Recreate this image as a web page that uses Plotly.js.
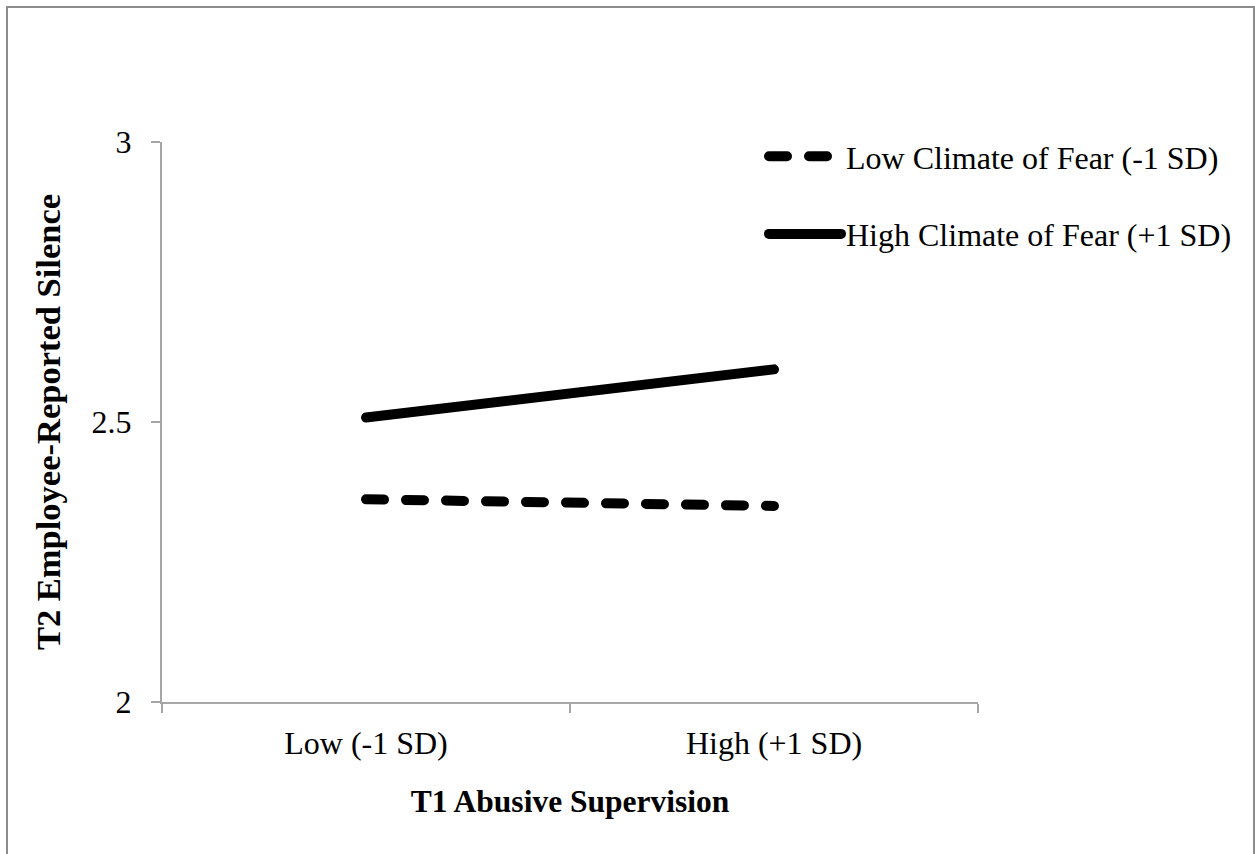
<!DOCTYPE html>
<html>
<head>
<meta charset="utf-8">
<script src="https://cdn.plot.ly/plotly-3.0.1.min.js"></script>
<style>html,body{margin:0;padding:0;background:#fff;}#chart{width:1255px;height:854px;}</style>
</head>
<body>
<div id="chart"></div>
<script>
const categories = ["Low (-1 SD)", "High (+1 SD)"];
const lowFear = [2.362, 2.350];
const highFear = [2.508, 2.594];
const seriesNames = ["Low Climate of Fear (-1 SD)", "High Climate of Fear (+1 SD)"];
const yTicks = [2, 2.5, 3];
const yTickText = ["2", "2.5", "3"];

const serif = '"Liberation Serif", "Times New Roman", serif';
const axisGray = '#a6a6a6';

const L = 162, R = 277, T = 142, B = 152;
const W = 1255, H = 854;
const pw = W - L - R, ph = H - T - B;

const traces = [
  {x: categories, y: lowFear, name: seriesNames[0], type: 'scatter', mode: 'lines',
   legendgroup: 'a', line: {color: '#000', width: 10, dash: '18px,22px'}},
  {x: categories, y: highFear, name: seriesNames[1], type: 'scatter', mode: 'lines',
   legendgroup: 'b', line: {color: '#000', width: 10}}
];

const layout = {
  width: W, height: H,
  margin: {l: L, r: R, t: T, b: B},
  paper_bgcolor: '#fff', plot_bgcolor: '#fff',
  font: {family: serif, color: '#000', size: 30},
  showlegend: true,
  legend: {x: (764 - L) / pw, y: 1 + (T - 129) / ph, xanchor: 'left', yanchor: 'top',
           font: {family: serif, size: 32, color: '#000'}, itemwidth: 72,
           tracegroupgap: 33, bgcolor: 'rgba(0,0,0,0)'},
  xaxis: {type: 'category', range: [-0.5, 1.5], showgrid: false, zeroline: false,
          showline: true, linecolor: axisGray, linewidth: 2,
          ticks: 'outside', tickson: 'boundaries', ticklen: 9, tickcolor: axisGray, tickwidth: 2,
          tickfont: {family: serif, size: 32, color: '#000'}, ticklabelstandoff: 12,
          title: {text: '<b>T1 Abusive Supervision</b>', font: {family: serif, size: 31.5, color: '#000'}, standoff: 30}},
  yaxis: {range: [2, 3], tickvals: yTicks, ticktext: yTickText, showgrid: false, zeroline: false,
          showline: true, linecolor: axisGray, linewidth: 2,
          ticks: 'outside', ticklen: 9, tickcolor: axisGray, tickwidth: 2,
          tickfont: {family: serif, size: 32, color: '#000'}, ticklabelstandoff: 13,
          title: {text: '<b>T2 Employee-Reported Silence</b>', font: {family: serif, size: 34.5, color: '#000'}, standoff: 21}},
  shapes: [{type: 'rect', xref: 'paper', yref: 'paper',
            x0: (7 - L) / pw, x1: (1254 - L) / pw,
            y0: 1 - (870 - T) / ph, y1: (ph + T - 7) / ph,
            line: {color: '#8c8c8c', width: 2}, fillcolor: 'rgba(0,0,0,0)'}]
};

Plotly.newPlot('chart', traces, layout, {displayModeBar: false, staticPlot: true}).then(function (gd) {
  gd.querySelectorAll('.scatterlayer path.js-line, .legend path.js-line').forEach(function (p) {
    p.style.strokeLinecap = 'round';
  });
});
</script>
</body>
</html>
